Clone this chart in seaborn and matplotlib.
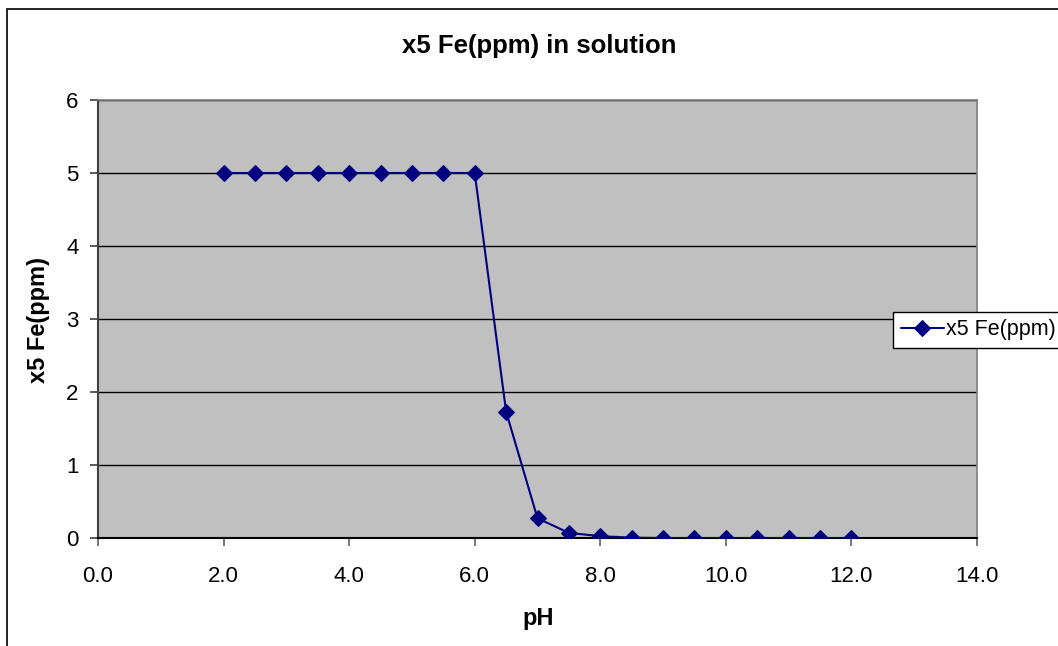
import matplotlib
matplotlib.use("Agg")
import matplotlib.pyplot as plt
from matplotlib.patches import Rectangle
import seaborn as sns
import pandas as pd

# pH sweep and dissolved iron (x5) readings
ph = [2.0, 2.5, 3.0, 3.5, 4.0, 4.5, 5.0, 5.5, 6.0, 6.5, 7.0, 7.5,
      8.0, 8.5, 9.0, 9.5, 10.0, 10.5, 11.0, 11.5, 12.0]
fe_ppm = [5.0, 5.0, 5.0, 5.0, 5.0, 5.0, 5.0, 5.0, 5.0, 1.73, 0.27, 0.07,
          0.025, 0.005, 0.0, 0.0, 0.0, 0.0, 0.0, 0.0, 0.0]
series_name = "x5 Fe(ppm)"
x_ticks = [0, 2, 4, 6, 8, 10, 12, 14]
x_tick_labels = ["0.0", "2.0", "4.0", "6.0", "8.0", "10.0", "12.0", "14.0"]
y_ticks = [0, 1, 2, 3, 4, 5, 6]

sns.set_style("white")
plt.rcParams["font.family"] = ["Liberation Sans", "DejaVu Sans"]
plt.rcParams["text.color"] = "black"
plt.rcParams["xtick.labelcolor"] = "black"
plt.rcParams["ytick.labelcolor"] = "black"

df = pd.DataFrame({"pH": ph, "Fe": fe_ppm, "series": series_name})

W, H = 1058, 646
fig = plt.figure(figsize=(W / 100, H / 100), dpi=100)
ax = fig.add_axes([98 / W, 1 - 538 / H, (977 - 98) / W, (538 - 100) / H])
ax.set_facecolor("#C0C0C0")

navy = "#000080"
sns.lineplot(data=df, x="pH", y="Fe", hue="series", palette=[navy],
             marker="D", markersize=8, markeredgecolor=navy, linewidth=1.5,
             ax=ax, zorder=3)

ax.set_xlim(0, 14)
ax.set_ylim(0, 6)
ax.set_xticks(x_ticks)
ax.set_xticklabels(x_tick_labels)
ax.set_yticks(y_ticks)
ax.yaxis.grid(True, color="black", linewidth=1)
ax.xaxis.grid(False)
ax.set_axisbelow(True)

for side in ("top", "right"):
    ax.spines[side].set_color("#808080")
    ax.spines[side].set_linewidth(1.2)
ax.spines["left"].set_color("#404040")
ax.spines["left"].set_linewidth(1.5)
ax.spines["bottom"].set_color("black")
ax.spines["bottom"].set_linewidth(1.5)

ax.tick_params(axis="y", direction="out", length=6, width=1.2, color="#404040",
               pad=8, labelsize=16, left=True, labelcolor="black")
ax.tick_params(axis="x", direction="out", length=6, width=1.2, color="#606060",
               pad=14, labelsize=16, bottom=True, labelcolor="black")

ax.set_xlabel("")
ax.set_ylabel("")
fig.text(538 / W, 1 - 618 / H, "pH", ha="center", va="center",
         fontsize=17, fontweight="bold", color="black")
fig.text(38 / W, 1 - 320 / H, "x5 Fe(ppm)", ha="center", va="center",
         rotation=90, fontsize=17, fontweight="bold", color="black")
fig.text(539 / W, 1 - 46 / H, "x5 Fe(ppm) in solution", ha="center",
         va="center", fontsize=18.5, fontweight="bold", color="black")

leg = ax.legend(loc="center left", bbox_to_anchor=(893 / W, 1 - 330 / H),
                bbox_transform=fig.transFigure, frameon=True, fontsize=15.5,
                handlelength=2.0, handletextpad=0.1, borderpad=0.35,
                borderaxespad=0, fancybox=False)
leg.get_frame().set_edgecolor("black")
leg.get_frame().set_linewidth(1)
leg.get_frame().set_facecolor("white")
leg.get_frame().set_alpha(1)
for t in leg.get_texts():
    t.set_color("black")

# outer chart frame
fig.patches.append(Rectangle((7 / W, -0.1), 1.2, 1 - 9 / H + 0.1,
                             transform=fig.transFigure, fill=False,
                             edgecolor="black", linewidth=1.2, zorder=0))

fig.savefig("out.png", dpi=100)
